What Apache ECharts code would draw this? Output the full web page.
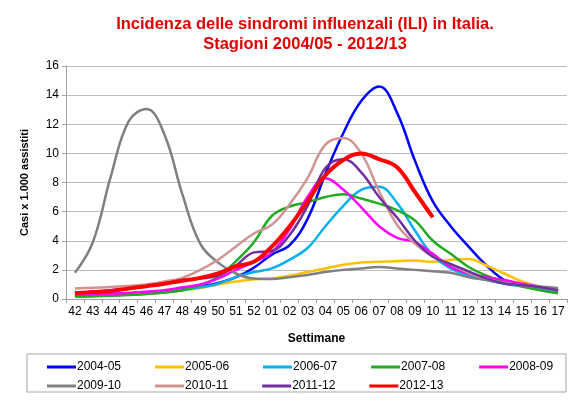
<!DOCTYPE html>
<html>
<head>
<meta charset="utf-8">
<script src="https://cdn.jsdelivr.net/npm/echarts@6/dist/echarts.min.js"></script>
<style>
  html, body { margin: 0; padding: 0; background: #fff; }
  #chart { width: 570px; height: 401px; }
</style>
</head>
<body>
<div id="chart"></div>
<script>
// settimane (asse x)
var weeks = ['42', '43', '44', '45', '46', '47', '48', '49', '50', '51', '52',
  '01', '02', '03', '04', '05', '06', '07', '08', '09', '10', '11', '12', '13', '14', '15', '16', '17'];
var yTicks = [0, 2, 4, 6, 8, 10, 12, 14, 16];

// casi x 1.000 assistiti, una stagione per riga
var s0405 = [0.3, 0.32, 0.35, 0.4, 0.45, 0.5, 0.65, 0.85, 1.1, 1.5, 2.15, 3.05, 3.7, 5.5, 8.6, 11.4, 13.6, 14.6, 12.8, 9.5, 6.7, 5.0, 3.6, 2.3, 1.3, 0.95, 0.8, 0.55];
var s0506 = [0.2, 0.22, 0.25, 0.3, 0.35, 0.45, 0.6, 0.75, 1.0, 1.2, 1.35, 1.4, 1.6, 1.85, 2.1, 2.35, 2.5, 2.55, 2.6, 2.65, 2.55, 2.7, 2.75, 2.3, 1.75, 1.2, 0.85, 0.65];
var s0607 = [0.2, 0.22, 0.25, 0.3, 0.38, 0.45, 0.6, 0.8, 1.05, 1.5, 1.85, 2.1, 2.7, 3.5, 5.0, 6.4, 7.5, 7.7, 6.6, 4.7, 3.0, 2.1, 1.6, 1.3, 1.05, 0.85, 0.65, 0.45];
var s0708 = [0.15, 0.18, 0.22, 0.28, 0.35, 0.45, 0.6, 0.95, 1.5, 2.6, 3.9, 5.7, 6.35, 6.65, 7.0, 7.2, 6.9, 6.55, 6.1, 5.4, 4.0, 3.1, 2.2, 1.6, 1.2, 0.85, 0.6, 0.4];
var s0809 = [0.3, 0.32, 0.36, 0.42, 0.5, 0.6, 0.8, 1.0, 1.4, 2.0, 2.55, 3.2, 4.8, 7.0, 8.3, 7.5, 6.3, 5.0, 4.2, 3.9, 3.1, 2.2, 1.75, 1.5, 1.3, 1.05, 0.85, 0.6];
var s0910 = [1.8, 3.9, 8.4, 12.2, 13.05, 11.3, 7.2, 3.8, 2.5, 1.75, 1.4, 1.37, 1.5, 1.65, 1.85, 2.0, 2.1, 2.2, 2.1, 2.0, 1.9, 1.8, 1.5, 1.3, 1.1, 0.95, 0.85, 0.75];
var s1011 = [0.72, 0.78, 0.82, 0.9, 1.0, 1.2, 1.45, 2.0, 2.7, 3.6, 4.5, 5.1, 6.5, 8.3, 10.6, 11.05, 10.0, 7.4, 5.1, 3.8, 2.9, 2.4, 1.8, 1.4, 1.1, 0.95, 0.8, 0.6];
var s1112 = [0.45, 0.5, 0.6, 0.72, 0.88, 1.08, 1.3, 1.4, 1.6, 2.3, 3.2, 3.3, 4.4, 6.4, 9.0, 9.6, 8.7, 7.0, 5.6, 4.0, 2.9, 2.4, 1.9, 1.4, 1.07, 0.95, 0.8, 0.6];
var s1213 = [0.4, 0.48, 0.55, 0.72, 0.88, 1.05, 1.25, 1.45, 1.75, 2.25, 2.55, 3.6, 5.0, 6.7, 8.5, 9.55, 10.0, 9.6, 9.05, 7.35, 5.6, null, null, null, null, null, null, null];

var seasons = ['2004-05', '2005-06', '2006-07', '2007-08', '2008-09', '2009-10', '2010-11', '2011-12', '2012-13'];
var values = [s0405, s0506, s0607, s0708, s0809, s0910, s1011, s1112, s1213];
var colors = ['#0000FF', '#FFC000', '#00B0F0', '#22AA22', '#FF00FF', '#808080', '#D09494', '#7030A0', '#FF0000'];

var chart = echarts.init(document.getElementById('chart'));
var font = 'Arial, "Liberation Sans", sans-serif';

var series = [];
for (var i = 0; i < seasons.length; i++) {
  series.push({
    name: seasons[i],
    type: 'line',
    data: values[i],
    smooth: 0.4,
    showSymbol: false,
    symbol: 'none',
    connectNulls: false,
    color: colors[i],
    lineStyle: { width: i === 8 ? 4 : 2.5, color: colors[i] },
    z: 2 + i
  });
}

var legendBase = {
  orient: 'horizontal',
  icon: 'rect',
  itemWidth: 29,
  itemHeight: 3,
  itemGap: 34,
  padding: 0,
  textStyle: { fontFamily: font, fontSize: 12, color: '#000', padding: [0, 0, 0, -4] },
  selectedMode: false
};

var option = {
  animation: false,
  backgroundColor: '#fff',
  textStyle: { fontFamily: font },
  title: {
    text: 'Incidenza delle sindromi influenzali (ILI) in Italia.\nStagioni 2004/05 - 2012/13',
    left: 300,
    top: 9,
    textAlign: 'center',
    textStyle: { fontFamily: font, fontSize: 16.5, fontWeight: 'bold', color: '#E00000', lineHeight: 20 }
  },
  grid: { left: 66, right: 3, top: 66, bottom: 102, containLabel: false },
  legend: [
    Object.assign({}, legendBase, { left: 47, top: 361, data: seasons.slice(0, 5) }),
    Object.assign({}, legendBase, { left: 47, top: 380, data: seasons.slice(5) })
  ],
  graphic: [{
    type: 'rect',
    shape: { x: 27, y: 354, width: 539, height: 38 },
    style: { fill: 'none', stroke: '#A6A6A6', lineWidth: 1 },
    silent: true
  }],
  xAxis: {
    type: 'category',
    data: weeks,
    boundaryGap: true,
    name: 'Settimane',
    nameLocation: 'middle',
    nameGap: 34,
    nameTextStyle: { fontFamily: font, fontSize: 12, fontWeight: 'bold', color: '#000' },
    axisLine: { lineStyle: { color: '#A0A0A0' } },
    axisTick: { show: true, length: 4, lineStyle: { color: '#A0A0A0' } },
    axisLabel: { interval: 0, fontFamily: font, fontSize: 12, color: '#000', margin: 7 },
    splitLine: { show: false }
  },
  yAxis: {
    type: 'value',
    min: yTicks[0],
    max: yTicks[yTicks.length - 1],
    interval: 2,
    name: 'Casi x 1.000 assistiti',
    nameLocation: 'middle',
    nameGap: 36,
    nameRotate: 90,
    nameTextStyle: { fontFamily: font, fontSize: 11, fontWeight: 'bold', color: '#000' },
    axisLine: { show: true, lineStyle: { color: '#A0A0A0' } },
    axisTick: { show: true, length: 4, lineStyle: { color: '#A0A0A0' } },
    axisLabel: { fontFamily: font, fontSize: 12, color: '#000', margin: 7 },
    splitLine: { show: true, lineStyle: { color: '#BEBEBE', width: 1 } }
  },
  series: series
};

chart.setOption(option);
</script>
</body>
</html>
